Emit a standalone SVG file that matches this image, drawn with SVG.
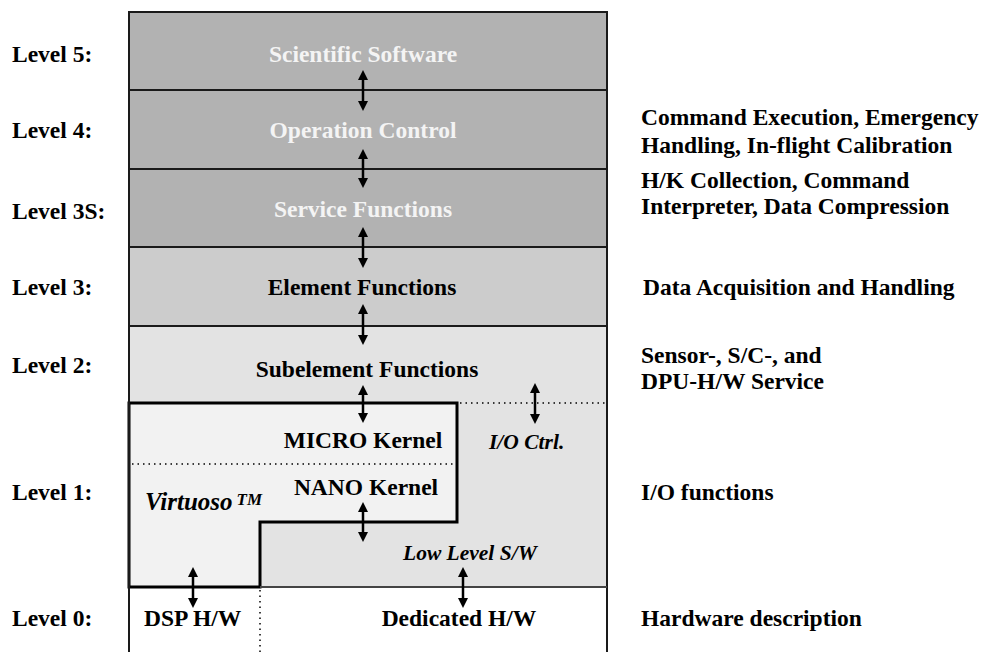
<svg xmlns="http://www.w3.org/2000/svg" width="991" height="652" viewBox="0 0 991 652">
<style>
text{font-family:"Liberation Serif","Times New Roman",serif;font-weight:bold;font-size:23.5px;fill:#000}
.w{fill:#f4f4f4}
.m{text-anchor:middle}
.it{font-style:italic;font-size:21.5px}
.ln{stroke:#1a1a1a;stroke-width:2;fill:none}
.dot{stroke:#000;stroke-width:1.5;stroke-dasharray:1.5 4;fill:none}
.arr{stroke:#000;stroke-width:2.5;marker-start:url(#ah);marker-end:url(#ah)}
</style>
<defs>
<marker id="ah" viewBox="0 0 10 10" refX="2" refY="5" markerWidth="10" markerHeight="10" markerUnits="userSpaceOnUse" orient="auto-start-reverse" preserveAspectRatio="none">
<path d="M0,0 L10,5 L0,10 z" fill="#000"/>
</marker>
</defs>
<rect width="991" height="652" fill="#fff"/>
<g id="level5"><rect x="129" y="12" width="478" height="78" fill="#b2b2b2"/><text class="w m" x="363" y="62">Scientific Software</text></g>
<g id="level4"><rect x="129" y="90" width="478" height="79" fill="#b2b2b2"/><text class="w m" x="363" y="138">Operation Control</text></g>
<g id="level3s"><rect x="129" y="169" width="478" height="78" fill="#b2b2b2"/><text class="w m" x="363" y="217">Service Functions</text></g>
<g id="level3"><rect x="129" y="247" width="478" height="79" fill="#cccccc"/><text class="m" x="362" y="295">Element Functions</text></g>
<g id="level2"><rect x="129" y="326" width="478" height="261" fill="#e3e3e3"/><text class="m" x="367" y="377">Subelement Functions</text>
<text class="it" x="489" y="449">I/O Ctrl.</text><text class="it" x="403" y="560">Low Level S/W</text></g>
<g id="virtuoso"><path d="M129,403 H457 V522 H260 V587 H129 Z" fill="#f2f2f2" stroke="#000" stroke-width="3"/>
<text class="m" x="363" y="448">MICRO Kernel</text><text class="m" x="366" y="495">NANO Kernel</text>
<text x="145" y="510" style="font-style:italic;font-size:25px">Virtuoso<tspan dx="4" dy="-5" style="font-size:17px">TM</tspan></text></g>
<g id="level0"><text x="144" y="626">DSP H/W</text><text class="m" x="459" y="626">Dedicated H/W</text></g>
<g id="frame">
<path class="ln" d="M129,12 V652 M607,12 V652 M128,12 H608 M129,90 H607 M129,169 H607 M129,247 H607 M129,326 H607"/>
<path d="M260,587 H607" stroke="#444" stroke-width="2"/>
<path class="dot" d="M132,464 H455 M460,403 H607 M260,590 V652"/>
</g>
<g id="connectors">
<line class="arr" x1="363" y1="78" x2="363" y2="103"/>
<line class="arr" x1="363" y1="157" x2="363" y2="180"/>
<line class="arr" x1="363" y1="235" x2="363" y2="260"/>
<line class="arr" x1="363" y1="312" x2="363" y2="337"/>
<line class="arr" x1="363" y1="393" x2="363" y2="415"/>
<line class="arr" x1="363" y1="510" x2="363" y2="534"/>
<line class="arr" x1="193" y1="575" x2="193" y2="600"/>
<line class="arr" x1="535" y1="391" x2="535" y2="416"/>
<line class="arr" x1="463" y1="575" x2="463" y2="600"/>
</g>
<g id="levels">
<text x="12" y="62">Level 5:</text>
<text x="12" y="138">Level 4:</text>
<text x="12" y="219">Level 3S:</text>
<text x="12" y="295">Level 3:</text>
<text x="12" y="373">Level 2:</text>
<text x="12" y="500">Level 1:</text>
<text x="12" y="626">Level 0:</text>
</g>
<g id="descriptions">
<text x="641" y="125">Command Execution, Emergency</text>
<text x="641" y="153">Handling, In-flight Calibration</text>
<text x="641" y="188">H/K Collection, Command</text>
<text x="641" y="214">Interpreter, Data Compression</text>
<text x="643" y="295">Data Acquisition and Handling</text>
<text x="641" y="363">Sensor-, S/C-, and</text>
<text x="641" y="389">DPU-H/W Service</text>
<text x="641" y="500">I/O functions</text>
<text x="641" y="626">Hardware description</text>
</g>
</svg>
